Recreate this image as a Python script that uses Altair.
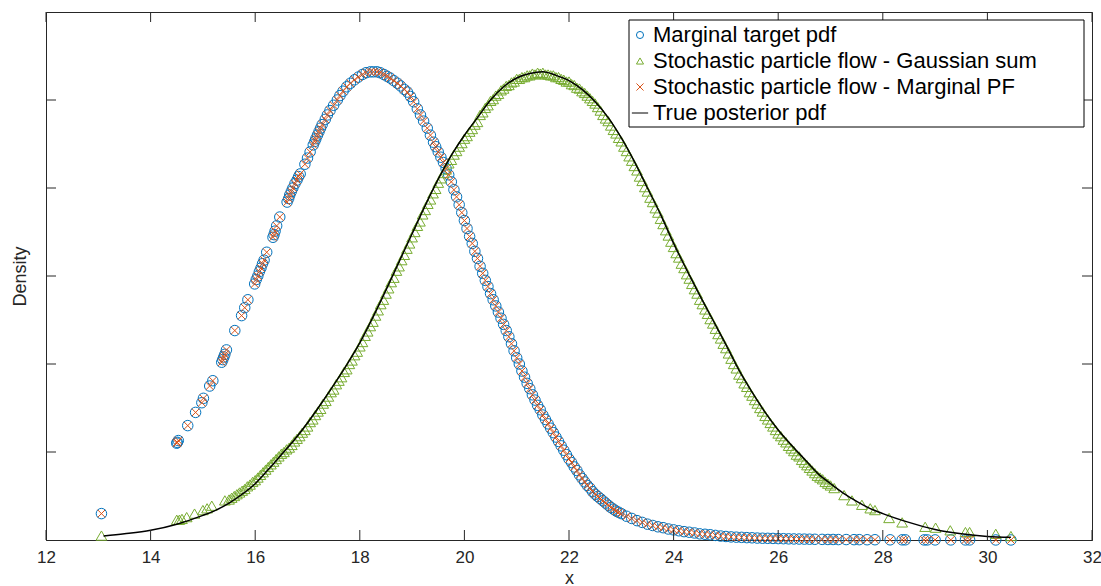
import altair as alt
import pandas as pd

# ---- data -------------------------------------------------------------
# True posterior density
post_x = [13.1, 13.5, 14.0, 14.5, 15.0, 15.25, 15.5, 15.75, 16.0, 16.25, 16.5, 16.75, 17.0,
          17.25, 17.5, 17.75, 18.0, 18.25, 18.5, 18.75, 19.0, 19.25, 19.5, 19.75, 20.0,
          20.25, 20.5, 20.75, 21.0, 21.25, 21.5, 21.75, 22.0, 22.25, 22.5, 22.75, 23.0,
          23.25, 23.5, 23.75, 24.0, 24.25, 24.5, 24.75, 25.0, 25.25, 25.5, 25.75, 26.0,
          26.25, 26.5, 26.75, 27.0, 27.25, 27.5, 27.75, 28.0, 28.5, 29.0, 29.5, 30.0, 30.45]
post_y = [0.045, 0.07, 0.11, 0.18, 0.28, 0.34, 0.42, 0.52, 0.64, 0.80, 0.97, 1.14, 1.33,
          1.54, 1.76, 1.99, 2.24, 2.53, 2.84, 3.16, 3.48, 3.80, 4.10, 4.37, 4.60,
          4.80, 5.00, 5.15, 5.25, 5.30, 5.32, 5.28, 5.22, 5.12, 4.98, 4.80, 4.57,
          4.30, 4.00, 3.70, 3.37, 3.07, 2.78, 2.50, 2.22, 1.93, 1.68, 1.45, 1.25,
          1.08, 0.92, 0.76, 0.64, 0.53, 0.44, 0.36, 0.30, 0.20, 0.12, 0.07, 0.04, 0.03]

# Marginal target pdf at the particle locations (shared by the marginal PF particles)
target_x = [13.06, 14.50, 14.51, 14.53, 14.71, 14.86, 14.98, 15.01, 15.13, 15.19,
            15.36, 15.38, 15.40, 15.42, 15.45, 15.61, 15.74, 15.80, 15.86, 15.99,
            16.02, 16.05, 16.08, 16.11, 16.14, 16.17, 16.22, 16.34, 16.36, 16.38,
            16.41, 16.47, 16.61, 16.64, 16.66, 16.69, 16.72, 16.76, 16.80, 16.83,
            16.86, 16.95, 17.00, 17.05, 17.11, 17.14, 17.16, 17.19, 17.22, 17.25,
            17.28, 17.34, 17.38, 17.43, 17.50, 17.57, 17.62, 17.68, 17.75, 17.82,
            17.90, 17.97, 18.05, 18.12, 18.20, 18.26, 18.33, 18.39, 18.46, 18.52,
            18.58, 18.65, 18.72, 18.78, 18.85, 18.91, 18.97, 19.03, 19.10, 19.16,
            19.22, 19.29, 19.35, 19.41, 19.45,
            19.50, 19.55, 19.60, 19.65, 19.70, 19.75, 19.80, 19.85, 19.90, 19.95,
            20.00, 20.05, 20.10, 20.15, 20.20, 20.25, 20.30, 20.35, 20.40, 20.45,
            20.50, 20.55, 20.60, 20.65, 20.70, 20.75, 20.80, 20.85, 20.90, 20.95,
            21.00, 21.05, 21.10, 21.15, 21.20, 21.25, 21.30, 21.35, 21.40, 21.45,
            21.50, 21.55, 21.60, 21.65, 21.70, 21.75, 21.80, 21.85, 21.90, 21.95,
            22.00, 22.05, 22.10, 22.15, 22.20, 22.25, 22.30, 22.35, 22.40, 22.45,
            22.50, 22.55, 22.60, 22.65, 22.70, 22.75, 22.80, 22.85, 22.90, 22.95,
            23.00, 23.10, 23.20, 23.30, 23.40, 23.50, 23.60, 23.70, 23.80, 23.90,
            24.00, 24.10, 24.20, 24.30, 24.40, 24.50, 24.60, 24.70, 24.80, 24.90,
            25.00, 25.10, 25.20, 25.30, 25.40, 25.50, 25.60, 25.70, 25.80, 25.90,
            26.00, 26.10, 26.20, 26.30, 26.40, 26.50, 26.60, 26.70,
            26.84, 26.95, 27.05, 27.15, 27.30, 27.45, 27.55, 27.70, 27.85, 28.14,
            28.37, 28.43, 28.79, 28.85, 29.00, 29.30, 29.58, 29.66, 30.16, 30.45]
target_y = [0.30, 1.10, 1.11, 1.13, 1.30, 1.45, 1.56, 1.61, 1.75, 1.81,
            2.02, 2.05, 2.08, 2.11, 2.16, 2.38, 2.55, 2.64, 2.73, 2.91,
            2.96, 3.00, 3.05, 3.09, 3.14, 3.18, 3.27, 3.44, 3.47, 3.51,
            3.57, 3.67, 3.84, 3.88, 3.92, 3.96, 4.00, 4.05, 4.09, 4.13,
            4.16, 4.27, 4.34, 4.41, 4.49, 4.53, 4.56, 4.60, 4.64, 4.68,
            4.72, 4.78, 4.83, 4.88, 4.94, 5.00, 5.05, 5.10, 5.15, 5.19,
            5.23, 5.26, 5.29, 5.31, 5.32, 5.32, 5.32, 5.31, 5.29, 5.27,
            5.25, 5.22, 5.19, 5.16, 5.12, 5.09, 5.04, 4.98, 4.90, 4.83,
            4.76, 4.68, 4.60, 4.52, 4.47,
            4.41, 4.35, 4.29, 4.22, 4.15, 4.07, 3.98, 3.90, 3.81, 3.72,
            3.63, 3.54, 3.45, 3.37, 3.28, 3.20, 3.11, 3.03, 2.95, 2.88,
            2.80, 2.73, 2.66, 2.59, 2.52, 2.45, 2.38, 2.31, 2.23, 2.15,
            2.07, 2.00, 1.92, 1.85, 1.78, 1.72, 1.65, 1.59, 1.53, 1.48,
            1.42, 1.37, 1.32, 1.27, 1.22, 1.17, 1.12, 1.07, 1.02, 0.97,
            0.92, 0.88, 0.83, 0.79, 0.74, 0.70, 0.66, 0.62, 0.59, 0.55,
            0.52, 0.495, 0.47, 0.445, 0.42, 0.395, 0.37, 0.35, 0.33, 0.315,
            0.30, 0.27, 0.245, 0.22, 0.20, 0.18, 0.165, 0.15, 0.14, 0.125,
            0.115, 0.105, 0.095, 0.088, 0.08, 0.07, 0.065, 0.06, 0.052, 0.045,
            0.04, 0.035, 0.032, 0.03, 0.027, 0.025, 0.022, 0.02, 0.019, 0.018,
            0.016, 0.015, 0.013, 0.012, 0.011, 0.01, 0.009, 0.008,
            0.007, 0.006, 0.006, 0.005, 0.005, 0.004, 0.004, 0.003, 0.003, 0.002,
            0.002, 0.002, 0.001, 0.001, 0.001, 0.001, 0.001, 0.001, 0.0005, 0.0005]

# Gaussian-sum stochastic particle flow particles
gauss_x = [13.06, 14.50, 14.55, 14.60, 14.69, 14.84, 15.00, 15.08, 15.17, 15.42,
           15.50, 15.55, 15.60, 15.65, 15.70, 15.75, 15.80, 15.85, 15.90, 15.95,
           16.00, 16.05, 16.10, 16.15, 16.20, 16.25, 16.30, 16.35, 16.40, 16.45,
           16.50, 16.55, 16.60, 16.65, 16.70, 16.75, 16.80, 16.85, 16.90, 16.95,
           17.00, 17.05, 17.10, 17.15, 17.20, 17.25, 17.30, 17.35, 17.40, 17.45,
           17.50, 17.55, 17.60, 17.65, 17.70, 17.75, 17.80, 17.85, 17.90, 17.95,
           18.00, 18.05, 18.10, 18.15, 18.20, 18.25, 18.30, 18.35, 18.40, 18.45,
           18.50, 18.55, 18.60, 18.65, 18.70, 18.75, 18.80, 18.85, 18.90, 18.95,
           19.00, 19.05, 19.10, 19.15, 19.20, 19.25, 19.30, 19.35, 19.40, 19.45,
           19.50, 19.55, 19.60, 19.65, 19.70, 19.75, 19.80, 19.85, 19.90, 19.95,
           20.00, 20.05, 20.10, 20.15, 20.20, 20.25, 20.30, 20.35, 20.40, 20.45,
           20.50, 20.55, 20.60, 20.65, 20.70, 20.75, 20.80, 20.85, 20.90, 20.95,
           21.00, 21.05, 21.10, 21.15, 21.20, 21.25, 21.30, 21.35, 21.40, 21.45,
           21.50, 21.55, 21.60, 21.65, 21.70, 21.75, 21.80, 21.85, 21.90, 21.95,
           22.00, 22.05, 22.10, 22.15, 22.20, 22.25, 22.30, 22.35, 22.40, 22.45,
           22.50, 22.55, 22.60, 22.65, 22.70, 22.75, 22.80, 22.85, 22.90, 22.95,
           23.00, 23.05, 23.10, 23.15, 23.20, 23.25, 23.30, 23.35, 23.40, 23.45,
           23.50, 23.55, 23.60, 23.65, 23.70, 23.75, 23.80, 23.85, 23.90, 23.95,
           24.00, 24.05, 24.10, 24.15, 24.20, 24.25, 24.30, 24.35, 24.40, 24.45,
           24.50, 24.55, 24.60, 24.65, 24.70, 24.75, 24.80, 24.85, 24.90, 24.95,
           25.00, 25.05, 25.10, 25.15, 25.20, 25.25, 25.30, 25.35, 25.40, 25.45,
           25.50, 25.55, 25.60, 25.65, 25.70, 25.75, 25.80, 25.85, 25.90, 25.95,
           26.00, 26.05, 26.10, 26.15, 26.20, 26.25, 26.30, 26.35, 26.40, 26.45,
           26.50, 26.55, 26.60, 26.65, 26.70, 26.75, 26.80, 26.85, 26.90, 26.95,
           27.00, 27.07, 27.26, 27.41, 27.60, 27.76, 27.85, 28.12, 28.37, 28.81,
           29.01, 29.29, 29.58, 29.66, 30.16, 30.45]
gauss_y = [0.05, 0.23, 0.23, 0.24, 0.26, 0.30, 0.34, 0.36, 0.39, 0.45,
           0.46, 0.48, 0.50, 0.52, 0.54, 0.56, 0.58, 0.61, 0.63, 0.66,
           0.68, 0.71, 0.74, 0.77, 0.80, 0.83, 0.86, 0.89, 0.92, 0.95,
           0.98, 1.00, 1.03, 1.05, 1.08, 1.12, 1.15, 1.18, 1.22, 1.25,
           1.29, 1.34, 1.37, 1.42, 1.46, 1.49, 1.55, 1.58, 1.63, 1.68,
           1.71, 1.77, 1.81, 1.85, 1.91, 1.94, 2.00, 2.04, 2.10, 2.14,
           2.20, 2.25, 2.32, 2.37, 2.43, 2.48, 2.55, 2.61, 2.68, 2.73,
           2.80, 2.86, 2.93, 2.98, 3.06, 3.11, 3.18, 3.24, 3.31, 3.37,
           3.44, 3.50, 3.57, 3.62, 3.70, 3.75, 3.82, 3.87, 3.94, 3.99,
           4.06, 4.11, 4.17, 4.21, 4.28, 4.32, 4.38, 4.42, 4.47, 4.51,
           4.56, 4.59, 4.64, 4.67, 4.72, 4.75, 4.83, 4.86, 4.91, 4.94,
           4.99, 5.01, 5.05, 5.07, 5.11, 5.13, 5.16, 5.17, 5.20, 5.21,
           5.24, 5.24, 5.26, 5.26, 5.28, 5.28, 5.30, 5.29, 5.31, 5.30,
           5.31, 5.29, 5.29, 5.28, 5.28, 5.26, 5.26, 5.24, 5.23, 5.21,
           5.21, 5.18, 5.17, 5.14, 5.13, 5.10, 5.08, 5.05, 5.02, 4.99,
           4.96, 4.92, 4.88, 4.83, 4.79, 4.76, 4.71, 4.66, 4.62, 4.57,
           4.53, 4.47, 4.42, 4.36, 4.31, 4.25, 4.20, 4.13, 4.08, 4.01,
           3.96, 3.89, 3.84, 3.77, 3.72, 3.65, 3.59, 3.52, 3.46, 3.39,
           3.33, 3.26, 3.21, 3.14, 3.09, 3.02, 2.97, 2.91, 2.85, 2.80,
           2.73, 2.68, 2.62, 2.57, 2.51, 2.46, 2.40, 2.34, 2.29, 2.23,
           2.18, 2.12, 2.06, 2.00, 1.95, 1.88, 1.84, 1.78, 1.74, 1.68,
           1.64, 1.59, 1.55, 1.50, 1.46, 1.41, 1.37, 1.33, 1.29, 1.25,
           1.21, 1.18, 1.14, 1.11, 1.07, 1.04, 1.01, 0.97, 0.95, 0.91,
           0.88, 0.85, 0.82, 0.79, 0.76, 0.73, 0.71, 0.69, 0.66, 0.64,
           0.62, 0.59, 0.51, 0.45, 0.40, 0.36, 0.34, 0.25, 0.20, 0.15,
           0.14, 0.11, 0.09, 0.09, 0.07, 0.045]

x_ticks = [12, 14, 16, 18, 20, 22, 24, 26, 28, 30, 32]
y_ticks = [1, 2, 3, 4, 5]

series = ["Marginal target pdf",
          "Stochastic particle flow - Gaussian sum",
          "Stochastic particle flow - Marginal PF",
          "True posterior pdf"]
colors = ["#0072BD", "#77AC30", "#D95319", "#000000"]
shapes = ["circle", "triangle-up", "M-1,-1L1,1M-1,1L1,-1", "M-2.3,0L2.3,0"]

# ---- layout -----------------------------------------------------------
W, H = 1046, 528
AXIS_COLOR = "#262626"
FONT = "Liberation Sans"


def frame(xs, ys, name):
    return pd.DataFrame({"x": xs, "density": ys, "series": name})


target_df = frame(target_x, target_y, series[0])
gauss_df = frame(gauss_x, gauss_y, series[1])
pf_df = frame(target_x, target_y, series[2])
post_df = frame(post_x, post_y, series[3])

x_enc = alt.X(
    "x:Q",
    scale=alt.Scale(domain=[12, 32], nice=False, zero=False),
    axis=alt.Axis(values=x_ticks, format="d", title="x", ticks=False, grid=False,
                  labelFontSize=17, titleFontSize=18, labelPadding=9, titlePadding=4,
                  labelFlush=False),
)
y_enc = alt.Y(
    "density:Q",
    scale=alt.Scale(domain=[0, 6], nice=False),
    axis=alt.Axis(labels=False, ticks=False, grid=False, title="Density",
                  titleFontSize=18, titlePadding=17, minExtent=0),
)
legend = alt.Legend(
    title=None, orient="none", legendX=583, legendY=12, padding=0,
    labelFontSize=22, labelColor="#000000", labelFont=FONT, labelOffset=2,
    symbolSize=50, symbolStrokeWidth=1, rowPadding=4, labelLimit=600,
)
color_enc = alt.Color("series:N", scale=alt.Scale(domain=series, range=colors), legend=legend)
shape_enc = alt.Shape("series:N", scale=alt.Scale(domain=series, range=shapes), legend=legend)


def points(df, size):
    return alt.Chart(df).mark_point(filled=False, size=size, strokeWidth=1, opacity=1).encode(
        x=x_enc, y=y_enc, color=color_enc, shape=shape_enc)


circles = points(target_df, 110)
triangles = points(gauss_df, 115)
crosses = points(pf_df, 60)
posterior = alt.Chart(post_df).mark_line(strokeWidth=1.5, interpolate="monotone").encode(
    x=x_enc, y=y_enc, color=color_enc)

# inward-pointing ticks on all four sides of the box
xt = pd.DataFrame({"x": x_ticks})
yt = pd.DataFrame({"density": y_ticks})
tick_style = dict(color=AXIS_COLOR, strokeWidth=1)
bottom_ticks = alt.Chart(xt).mark_rule(**tick_style).encode(
    x=x_enc, y=alt.value(H), y2=alt.value(H - 10))
top_ticks = alt.Chart(xt).mark_rule(**tick_style).encode(
    x=x_enc, y=alt.value(0), y2=alt.value(10))
left_ticks = alt.Chart(yt).mark_rule(**tick_style).encode(
    y=y_enc, x=alt.value(0), x2=alt.value(10))
right_ticks = alt.Chart(yt).mark_rule(**tick_style).encode(
    y=y_enc, x=alt.value(W - 10), x2=alt.value(W))

# frame drawn behind the legend entries
legend_box = alt.Chart(alt.Data(values=[{}])).mark_rect(
    fill="white", stroke="#000000", strokeWidth=1).encode(
    x=alt.value(583), x2=alt.value(1038), y=alt.value(8), y2=alt.value(115))

chart = alt.layer(
    circles, triangles, crosses, posterior,
    bottom_ticks, top_ticks, left_ticks, right_ticks, legend_box,
).properties(
    width=W, height=H,
    padding={"left": 46, "top": 12, "right": 9, "bottom": 46},
    autosize=alt.AutoSizeParams(type="none"),
    background="white",
).configure(
    font=FONT,
).configure_view(
    stroke=AXIS_COLOR, strokeWidth=1,
).configure_axis(
    domainColor=AXIS_COLOR, domainWidth=1, labelColor=AXIS_COLOR, titleColor=AXIS_COLOR,
    labelFont=FONT, titleFont=FONT, titleFontWeight="normal",
)

chart.save("out.html", embed_options={"renderer": "svg", "actions": False})
